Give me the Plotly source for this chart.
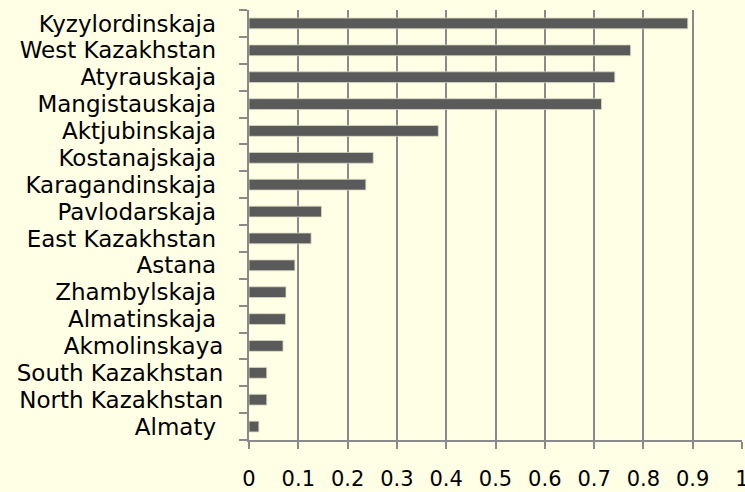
import plotly.graph_objects as go

# regions listed top to bottom as in the chart (trailing nbsp keeps Excel-like spacing)
regions = [
    "Kyzylordinskaja\u00a0",
    "West Kazakhstan\u00a0",
    "Atyrauskaja\u00a0",
    "Mangistauskaja\u00a0",
    "Aktjubinskaja\u00a0",
    "Kostanajskaja\u00a0",
    "Karagandinskaja\u00a0",
    "Pavlodarskaja\u00a0",
    "East Kazakhstan\u00a0",
    "Astana\u00a0",
    "Zhambylskaja\u00a0",
    "Almatinskaja\u00a0",
    "Akmolinskaya",
    "South Kazakhstan",
    "North Kazakhstan",
    "Almaty\u00a0",
]

values = [
    0.890, 0.774, 0.742, 0.715, 0.384, 0.252, 0.237, 0.147,
    0.126, 0.093, 0.075, 0.074, 0.069, 0.036, 0.036, 0.020,
]

x_ticks = [0, 0.1, 0.2, 0.3, 0.4, 0.5, 0.6, 0.7, 0.8, 0.9, 1]
x_labels = ["0", "0.1", "0.2", "0.3", "0.4", "0.5", "0.6", "0.7", "0.8", "0.9", "1"]

BG = "#FFFFE5"
GRID = "#8A8A8A"

fig = go.Figure(
    go.Bar(
        x=values,
        y=regions,
        orientation="h",
        marker=dict(color="#5A5A5A", line=dict(color="#D8D8C4", width=0.8)),
    )
)

fig.update_layout(
    width=745,
    height=492,
    paper_bgcolor=BG,
    plot_bgcolor=BG,
    margin=dict(l=249, r=3, t=10, b=52),
    bargap=0.6,
    showlegend=False,
    font=dict(family="DejaVu Sans", color="#000000"),
)

fig.update_xaxes(
    range=[0, 1],
    tickmode="array",
    tickvals=x_ticks,
    ticktext=x_labels,
    showgrid=True,
    gridcolor=GRID,
    gridwidth=2,
    showline=True,
    linecolor=GRID,
    linewidth=2,
    ticks="outside",
    ticklen=7,
    tickwidth=2,
    tickcolor=GRID,
    tickfont=dict(size=21),
    ticklabelstandoff=12,
    ticklabeloverflow="allow",
    zeroline=False,
    automargin=False,
)

fig.update_yaxes(
    autorange="reversed",
    tickmode="array",
    tickvals=regions,
    ticktext=regions,
    showgrid=False,
    showline=True,
    linecolor=GRID,
    linewidth=2,
    ticks="outside",
    tickson="boundaries",
    ticklen=8,
    tickwidth=2,
    tickcolor=GRID,
    tickfont=dict(size=23),
    ticklabelstandoff=19,
    automargin=False,
)

# drop the page's default body margin so the figure fills the window
fig.write_html(
    "out.html",
    config={"displayModeBar": False},
    post_script="document.body.style.margin='0';document.body.style.background='#FFFFE5';",
)
